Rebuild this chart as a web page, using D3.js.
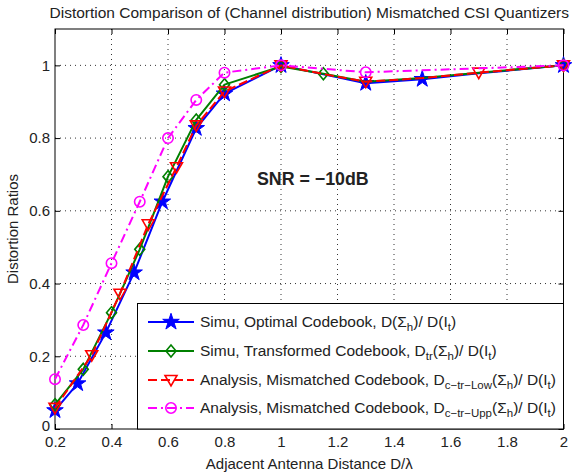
<!DOCTYPE html>
<html>
<head>
<meta charset="utf-8">
<script src="https://cdn.jsdelivr.net/npm/d3@7"></script>
<style>
  html, body { margin: 0; padding: 0; background: #fff; }
  svg { display: block; }
  text { font-family: "Liberation Sans", Arial, Helvetica, sans-serif; fill: #222; }
</style>
</head>
<body>
<svg id="chart" width="572" height="474"></svg>
<script>
// ---------------- data ----------------
const titleText = "Distortion Comparison of (Channel distribution) Mismatched CSI Quantizers";
const xLabel = "Adjacent Antenna Distance D/λ";
const yLabel = "Distortion Ratios";
const annotation = "SNR = \u221210dB";

const xTicks = [0.2, 0.4, 0.6, 0.8, 1, 1.2, 1.4, 1.6, 1.8, 2];
const xTickLabels = ["0.2", "0.4", "0.6", "0.8", "1", "1.2", "1.4", "1.6", "1.8", "2"];
const yTicks = [0, 0.2, 0.4, 0.6, 0.8, 1];
const yTickLabels = ["0", "0.2", "0.4", "0.6", "0.8", "1"];

// Simu, Optimal Codebook (blue, stars)
const optX = [0.2, 0.28, 0.38, 0.48, 0.58, 0.7, 0.8, 1, 1.3, 1.5, 1.7, 2];
const optY = [0.051, 0.125, 0.265, 0.43, 0.625, 0.827, 0.922, 1.0, 0.951, 0.962, 0.978, 1.0];
const optMarks = [0, 1, 2, 3, 4, 5, 6, 7, 8, 9, 11];

// Simu, Transformed Codebook (green, diamonds)
const trX = [0.2, 0.3, 0.4, 0.5, 0.6, 0.7, 0.8, 1, 1.15, 1.3, 1.5, 1.7, 2];
const trY = [0.067, 0.164, 0.32, 0.494, 0.694, 0.85, 0.947, 0.997, 0.977, 0.955, 0.965, 0.98, 1.0];
const trMarks = [0, 1, 2, 3, 4, 5, 6, 7, 8, 12];

// Analysis, Mismatched Codebook, Low (red, triangles)
const lowX = [0.2, 0.33, 0.43, 0.53, 0.63, 0.7, 0.8, 1, 1.15, 1.3, 1.5, 1.7, 2];
const lowY = [0.058, 0.203, 0.372, 0.563, 0.72, 0.835, 0.928, 1.0, 0.976, 0.955, 0.965, 0.98, 1.0];
const lowMarks = [0, 1, 2, 3, 4, 5, 6, 7, 9, 11, 12];

// Analysis, Mismatched Codebook, Upp (magenta, circles)
const uppX = [0.2, 0.3, 0.4, 0.5, 0.6, 0.7, 0.8, 1, 1.3, 2];
const uppY = [0.137, 0.286, 0.456, 0.625, 0.8, 0.905, 0.98, 1.0, 0.981, 1.0];
const uppMarks = [0, 1, 2, 3, 4, 5, 6, 7, 8, 9];

// legend labels: [text, isSubscript]
const legendLabels = [
  [["Simu, Optimal Codebook, D(\u03A3", 0], ["h", 1], [")/ D(I", 0], ["t", 1], [")", 0]],
  [["Simu, Transformed Codebook, D", 0], ["tr", 1], ["(\u03A3", 0], ["h", 1], [")/ D(I", 0], ["t", 1], [")", 0]],
  [["Analysis, Mismatched Codebook, D", 0], ["c\u2212tr\u2212Low", 1], ["(\u03A3", 0], ["h", 1], [")/ D(I", 0], ["t", 1], [")", 0]],
  [["Analysis, Mismatched Codebook, D", 0], ["c\u2212tr\u2212Upp", 1], ["(\u03A3", 0], ["h", 1], [")/ D(I", 0], ["t", 1], [")", 0]]
];

const seriesDefs = [
  { x: optX, y: optY, marks: optMarks, color: "#0000ff", dash: null, marker: "star" },
  { x: trX, y: trY, marks: trMarks, color: "#008000", dash: null, marker: "diamond" },
  { x: lowX, y: lowY, marks: lowMarks, color: "#ff0000", dash: "9,4", marker: "tri" },
  { x: uppX, y: uppY, marks: uppMarks, color: "#ff00ff", dash: "9,4,2,4", marker: "circle" }
];

// ---------------- layout ----------------
const FS = 15, FST = 15.5;
const svg = d3.select("#chart");
const L = 55, R = 563.5, T = 29, B = 429;
const x = d3.scaleLinear().domain([0.2, 2]).range([L, R]);
const y = d3.scaleLinear().domain([0, 1.1]).range([B, T]);

// grid
const grid = svg.append("g");
xTicks.slice(1, -1).forEach(v => {
  grid.append("line").attr("x1", x(v)).attr("x2", x(v)).attr("y1", T).attr("y2", B)
    .attr("stroke", "#333").attr("stroke-width", 1).attr("stroke-dasharray", "1,4");
});
yTicks.slice(1).forEach(v => {
  grid.append("line").attr("x1", L).attr("x2", R).attr("y1", y(v)).attr("y2", y(v))
    .attr("stroke", "#333").attr("stroke-width", 1).attr("stroke-dasharray", "1,4");
});

// axes via d3 axis
const xAxis = d3.axisBottom(x).tickValues(xTicks).tickFormat((d, i) => xTickLabels[i]).tickSizeInner(-5).tickSizeOuter(0).tickPadding(7);
const yAxis = d3.axisLeft(y).tickValues(yTicks).tickFormat((d, i) => yTickLabels[i]).tickSizeInner(-5).tickSizeOuter(0).tickPadding(5);
const xAxisTop = d3.axisTop(x).tickValues(xTicks).tickFormat("").tickSizeInner(-5).tickSizeOuter(0);
const yAxisRight = d3.axisRight(y).tickValues(yTicks).tickFormat("").tickSizeInner(-5).tickSizeOuter(0);

function styleAxis(g) {
  g.select(".domain").remove();
  g.selectAll("line").attr("stroke", "#000");
  g.selectAll("text").attr("font-size", FS).attr("fill", "#222")
    .style("font-family", "'Liberation Sans', Arial, sans-serif");
}
svg.append("g").attr("transform", `translate(0,${B})`).call(xAxis).call(styleAxis);
const gy = svg.append("g").attr("transform", `translate(${L},0)`).call(yAxis).call(styleAxis);
// lift the "0" label a little so it clears the x tick labels
gy.selectAll(".tick text").filter(d => d === 0).attr("dy", "0.1em");
svg.append("g").attr("transform", `translate(0,${T})`).call(xAxisTop).call(styleAxis);
svg.append("g").attr("transform", `translate(${R},0)`).call(yAxisRight).call(styleAxis);

// frame
svg.append("rect").attr("x", L).attr("y", T).attr("width", R - L).attr("height", B - T)
  .attr("fill", "none").attr("stroke", "#000").attr("stroke-width", 1);

// marker shapes
function markerPath(type) {
  if (type === "star") return d3.symbol().type(d3.symbolStar).size(85)();
  if (type === "diamond") return "M0,-6L5,0L0,6L-5,0Z";
  if (type === "tri") return "M-6,-4.5L6,-4.5L0,6Z";
  return d3.symbol().type(d3.symbolCircle).size(85)();
}

// series
const lineGen = d3.line().x(d => x(d[0])).y(d => y(d[1]));
const plot = svg.append("g");
seriesDefs.forEach(s => {
  const pts = s.x.map((v, i) => [v, s.y[i]]);
  plot.append("path").datum(pts).attr("d", lineGen).attr("fill", "none")
    .attr("stroke", s.color).attr("stroke-width", 2)
    .attr("stroke-dasharray", s.dash).attr("stroke-linejoin", "round");
  const mp = markerPath(s.marker);
  s.marks.forEach(i => {
    plot.append("path").attr("d", mp)
      .attr("transform", `translate(${x(s.x[i])},${y(s.y[i])})`)
      .attr("fill", s.marker === "star" ? s.color : "none")
      .attr("stroke", s.color).attr("stroke-width", s.marker === "star" ? 1 : 1.6);
  });
});

// annotation
svg.append("text").attr("x", 257).attr("y", 185).attr("font-size", 17.8).attr("font-weight", "bold")
  .attr("fill", "#222").text(annotation);

// legend
const lg = svg.append("g");
const LX = 137.5, LY = 303.5, LW = R - LX, LH = B - LY;
lg.append("rect").attr("x", LX).attr("y", LY).attr("width", LW).attr("height", LH)
  .attr("fill", "#fff").attr("stroke", "#000").attr("stroke-width", 1);
const rowY = [322, 351, 380, 408];
seriesDefs.forEach((s, i) => {
  const yy = rowY[i];
  lg.append("line").attr("x1", 148).attr("x2", 194).attr("y1", yy).attr("y2", yy)
    .attr("stroke", s.color).attr("stroke-width", 2).attr("stroke-dasharray", s.dash);
  lg.append("path").attr("d", markerPath(s.marker)).attr("transform", `translate(171,${yy})`)
    .attr("fill", s.marker === "star" ? s.color : "none")
    .attr("stroke", s.color).attr("stroke-width", s.marker === "star" ? 1 : 1.6);
  const t = lg.append("text").attr("x", 200).attr("y", yy + 5).attr("font-size", FST);
  let prevSub = false;
  legendLabels[i].forEach(seg => {
    const isSub = !!seg[1];
    const dy = isSub ? (prevSub ? 0 : 4) : (prevSub ? -4 : 0);
    t.append("tspan").attr("dy", dy).attr("font-size", isSub ? 11.5 : FST).text(seg[0]);
    prevSub = isSub;
  });
});

// title and axis labels
svg.append("text").attr("x", (L + R) / 2).attr("y", 18).attr("text-anchor", "middle")
  .attr("font-size", FST).text(titleText);
svg.append("text").attr("x", (L + R) / 2).attr("y", 469).attr("text-anchor", "middle")
  .attr("font-size", FS).text(xLabel);
svg.append("text").attr("transform", `translate(18,${(T + B) / 2}) rotate(-90)`).attr("text-anchor", "middle")
  .attr("font-size", FS).text(yLabel);
</script>
</body>
</html>
